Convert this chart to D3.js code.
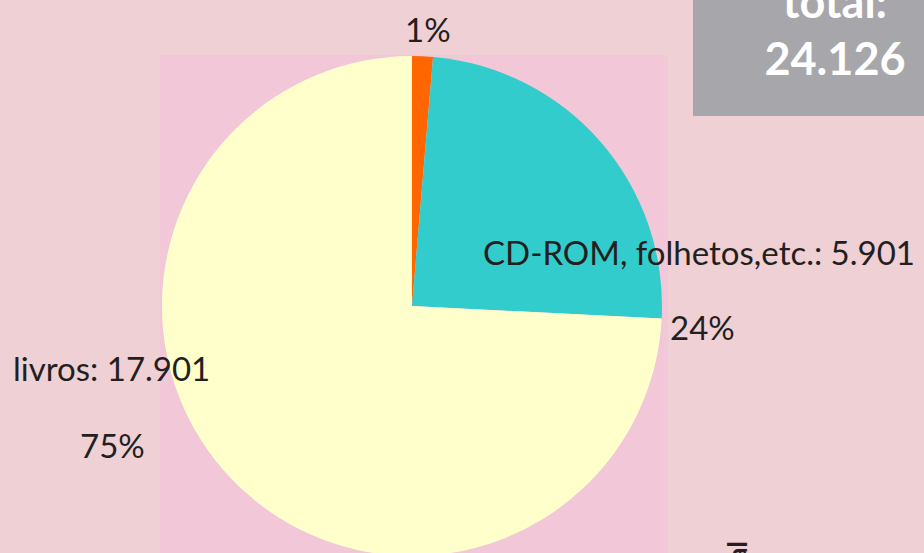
<!DOCTYPE html>
<html>
<head>
<meta charset="utf-8">
<script src="https://cdn.jsdelivr.net/npm/d3@7"></script>
<style>
  html, body { margin: 0; padding: 0; background: #efd0d5; overflow: hidden; }
  svg { display: block; font-family: "Lato", "Open Sans", sans-serif; }
</style>
</head>
<body>
<svg id="svg" width="924" height="553"></svg>
<script>
// slices, clockwise from the top
var categories = ["outros", "CD-ROM, folhetos,etc.", "livros"];
var values = [324, 5901, 17901];
var percentLabels = ["1%", "24%", "75%"];
var nameLabels = ["", "CD-ROM, folhetos,etc.: 5.901", "livros: 17.901"];
var totalLabel = ["total:", "24.126"];

var colors = ["#ff6600", "#33cccc", "#ffffcc"];

var svg = d3.select("#svg"),
    width = 924,
    height = 553;

// plot area
svg.append("rect")
    .attr("x", 160).attr("y", 55)
    .attr("width", 508).attr("height", height - 55)
    .attr("fill", "#f2c8d9");

var cx = 412, cy = 306, radius = 250;

var pie = d3.pie().sort(null).value(function(d) { return d; });
var arc = d3.arc().innerRadius(0).outerRadius(radius);

var g = svg.append("g").attr("transform", "translate(" + cx + "," + cy + ")");

g.selectAll("path")
    .data(pie(values))
  .enter().append("path")
    .attr("d", arc)
    .attr("fill", function(d, i) { return colors[i]; });

// labels (left edge + baseline)
var labelPos = [
  { pct: [405, 42], name: null },
  { pct: [670, 340], name: [483, 265] },
  { pct: [80, 458], name: [13, 381] }
];

var labels = svg.append("g")
    .attr("fill", "#231f20")
    .attr("font-size", 33);

labelPos.forEach(function(p, i) {
  labels.append("text")
      .attr("x", p.pct[0]).attr("y", p.pct[1])
      .text(percentLabels[i]);
  if (p.name) {
    labels.append("text")
        .attr("x", p.name[0]).attr("y", p.name[1])
        .text(nameLabels[i]);
  }
});

// total box
svg.append("rect")
    .attr("x", 693).attr("y", -2)
    .attr("width", 240).attr("height", 118)
    .attr("fill", "#a7a7ab");

svg.append("g")
    .attr("fill", "#ffffff")
    .attr("font-weight", "bold")
    .attr("font-size", 45)
    .attr("text-anchor", "middle")
  .selectAll("text")
    .data(totalLabel)
  .enter().append("text")
    .attr("x", 835)
    .attr("y", function(d, i) { return 18 + i * 57; })
    .text(function(d) { return d; });

// stray rotated label at the bottom, mostly cut off
svg.append("text")
    .attr("transform", "translate(747,541) rotate(-90)")
    .attr("text-anchor", "end")
    .attr("font-size", 26)
    .attr("font-weight", "bold")
    .attr("fill", "#231f20")
    .text("total");
</script>
</body>
</html>
